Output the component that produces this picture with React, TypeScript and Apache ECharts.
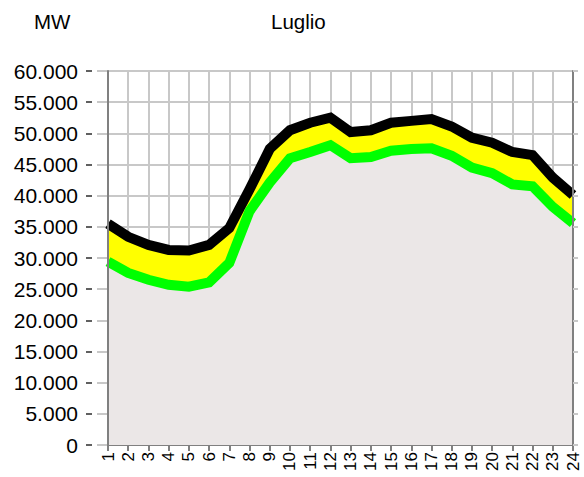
import React, { useEffect, useRef } from "react";
import * as echarts from "echarts";

const hours = ["1","2","3","4","5","6","7","8","9","10","11","12","13","14","15","16","17","18","19","20","21","22","23","24"];
const upperValues = [35500,33400,32100,31300,31200,32100,34800,41000,47500,50500,51700,52500,50200,50500,51700,52000,52300,51100,49300,48500,47000,46500,42900,40100];
const lowerValues = [29400,27600,26500,25700,25400,26100,29200,37500,42100,46000,47000,48100,46000,46200,47200,47500,47600,46400,44500,43600,41800,41500,38200,35600];
const unitLabel = "MW";
const titleText = "Luglio";

const fmt = (v: number) => (v === 0 ? "0" : v.toLocaleString("de-DE"));

export default function App() {
  const ref = useRef<HTMLDivElement>(null);
  useEffect(() => {
    if (!ref.current) return;
    const chart = echarts.init(ref.current, null, { renderer: "svg" });
    const font = "Liberation Sans, Arial, sans-serif";
    const yBase = { type: "value", min: 0, max: 60000, interval: 5000 } as any;
    chart.setOption({
      animation: false,
      backgroundColor: "#ffffff",
      textStyle: { fontFamily: font },
      graphic: [
        { type: "text", left: 34, top: 11, style: { text: unitLabel, fontSize: 20.5, fontFamily: font, fill: "#000" } },
        { type: "text", left: 271, top: 11, style: { text: titleText, fontSize: 20.5, fontFamily: font, fill: "#000" } },
      ],
      grid: { left: 108, right: 11, top: 71, bottom: 32, containLabel: false },
      xAxis: {
        type: "category",
        data: hours,
        boundaryGap: false,
        axisLine: { lineStyle: { color: "#808080", width: 2 } },
        axisTick: { alignWithLabel: true, length: 6, lineStyle: { color: "#808080", width: 2 } },
        axisLabel: { rotate: 90, fontSize: 17, color: "#000", fontFamily: font, interval: 0, margin: 7 },
        splitLine: { show: true, lineStyle: { color: "#c8c8c8", width: 2 } },
      },
      yAxis: [
        {
          ...yBase, position: "left", z: 0,
          axisLine: { show: false },
          axisTick: { show: true, length: 11, lineStyle: { color: "#c8c8c8", width: 2 } },
          axisLabel: { show: false },
          splitLine: { show: true, lineStyle: { color: "#c8c8c8", width: 2 } },
        },
        {
          ...yBase, position: "left", offset: 16, z: 0,
          axisLine: { show: false },
          axisTick: { show: true, length: 6, lineStyle: { color: "#606060", width: 2 } },
          axisLabel: { show: true, fontSize: 21, color: "#000", fontFamily: font, margin: 14, formatter: fmt },
          splitLine: { show: false },
        },
        {
          ...yBase, position: "left", z: 10,
          axisLine: { show: true, lineStyle: { color: "#808080", width: 2 } },
          axisTick: { show: false },
          axisLabel: { show: false },
          splitLine: { show: false },
        },
        {
          ...yBase, position: "right", z: 10,
          axisLine: { show: true, lineStyle: { color: "#808080", width: 2 } },
          axisTick: { show: true, length: 5, lineStyle: { color: "#c8c8c8", width: 2 } },
          axisLabel: { show: false },
          splitLine: { show: false },
        },
      ],
      series: [
        {
          type: "line",
          data: upperValues,
          yAxisIndex: 0,
          symbol: "none",
          lineStyle: { color: "#000000", width: 10, cap: "butt", join: "miter" },
          itemStyle: { color: "#000000" },
          areaStyle: { color: "#ffff00", opacity: 1 },
          z: 2,
        },
        {
          type: "line",
          data: lowerValues,
          yAxisIndex: 0,
          symbol: "none",
          lineStyle: { color: "#00ff00", width: 10, cap: "butt", join: "miter" },
          itemStyle: { color: "#00ff00" },
          areaStyle: { color: "#ebe7e7", opacity: 1 },
          z: 3,
        },
      ],
    });
    return () => chart.dispose();
  }, []);
  return <div ref={ref} style={{ width: 584, height: 477, position: "absolute", left: 0, top: 0 }} />;
}
